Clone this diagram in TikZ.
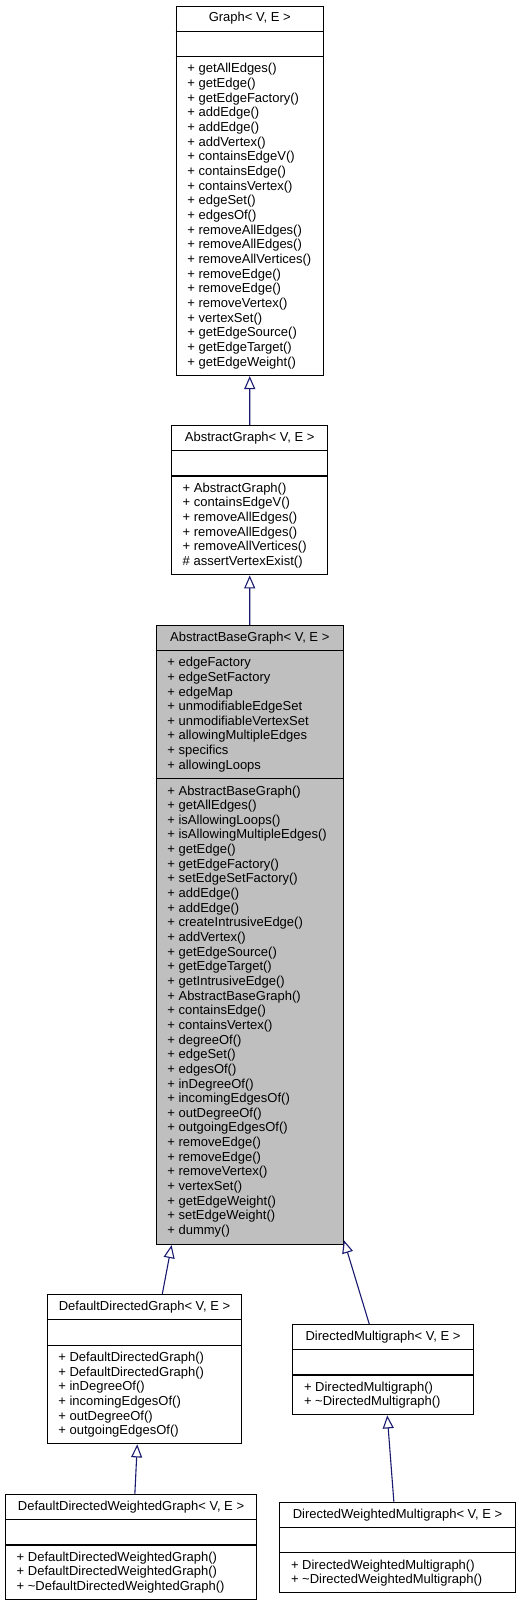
\documentclass[tikz,border=0pt]{standalone}
\usepackage{fontspec}
\setmainfont{Liberation Sans}
\usepackage{tikz}
\usetikzlibrary{arrows.meta}

\definecolor{edgeblue}{HTML}{191970}
\definecolor{basegrey}{HTML}{BFBFBF}
\newcommand\umlfont{\fontsize{13}{14.65}\selectfont}

\tikzset{
  classbox/.style={draw=black, line width=1.1pt, anchor=north west, inner sep=0pt},
  classname/.style={anchor=base, inner sep=0pt, font=\umlfont},
  member/.style={anchor=base west, inner sep=0pt, font=\umlfont},
  inherit/.style={draw=edgeblue, line width=1.1pt, -{Triangle[open, length=13pt, width=11pt]}},
}

\begin{document}
\begin{tikzpicture}[x=1pt, y=1pt]
    \useasboundingbox (0,0) rectangle (520,-1605);
    % Graph
    \node[classbox, minimum width=147, minimum height=369.3] (graph) at (175.7,-5.7) {};
    \draw[line width=1.1pt] ([yshift=-25.5]graph.north west) -- ([yshift=-25.5]graph.north east);
    \draw[line width=1.1pt] ([yshift=-51]graph.north west) -- ([yshift=-51]graph.north east);
    \node[classname] (graph-name) at ([yshift=-16.3]graph.north) {Graph< V, E >};
    \foreach \m [count=\i from 0] in {+ getAllEdges(), + getEdge(), + getEdgeFactory(), + addEdge(), + addEdge(), + addVertex(), + containsEdgeV(), + containsEdge(), + containsVertex(), + edgeSet(), + edgesOf(), + removeAllEdges(), + removeAllEdges(), + removeAllVertices(), + removeEdge(), + removeEdge(), + removeVertex(), + vertexSet(), + getEdgeSource(), + getEdgeTarget(), + getEdgeWeight()}
      \node[member] (graph-op\i) at ([xshift=11.5, yshift=-67.3-14.65*\i]graph.north west) {\m};

    % AbstractGraph
    \node[classbox, minimum width=156.3, minimum height=149.3] (agraph) at (171,-425) {};
    \draw[line width=1.1pt] ([yshift=-25.5]agraph.north west) -- ([yshift=-25.5]agraph.north east);
    \draw[line width=1.1pt] ([yshift=-51]agraph.north west) -- ([yshift=-51]agraph.north east);
    \node[classname] (agraph-name) at ([yshift=-16.3]agraph.north) {AbstractGraph< V, E >};
    \foreach \m [count=\i from 0] in {+ AbstractGraph(), + containsEdgeV(), + removeAllEdges(), + removeAllEdges(), + removeAllVertices(), \# assertVertexExist()}
      \node[member] (agraph-op\i) at ([xshift=11.5, yshift=-67.3-14.65*\i]agraph.north west) {\m};

    % AbstractBaseGraph
    \node[classbox, fill=basegrey, minimum width=187, minimum height=619] (abgraph) at (155.7,-625) {};
    \draw[line width=1.1pt] ([yshift=-25.5]abgraph.north west) -- ([yshift=-25.5]abgraph.north east);
    \draw[line width=1.1pt] ([yshift=-153.7]abgraph.north west) -- ([yshift=-153.7]abgraph.north east);
    \node[classname] (abgraph-name) at ([yshift=-16.3]abgraph.north) {AbstractBaseGraph< V, E >};
    \foreach \m [count=\i from 0] in {+ edgeFactory, + edgeSetFactory, + edgeMap, + unmodifiableEdgeSet, + unmodifiableVertexSet, + allowingMultipleEdges, + specifics, + allowingLoops}
      \node[member] (abgraph-at\i) at ([xshift=11.5, yshift=-41.7-14.65*\i]abgraph.north west) {\m};
    \foreach \m [count=\i from 0] in {+ AbstractBaseGraph(), + getAllEdges(), + isAllowingLoops(), + isAllowingMultipleEdges(), + getEdge(), + getEdgeFactory(), + setEdgeSetFactory(), + addEdge(), + addEdge(), + createIntrusiveEdge(), + addVertex(), + getEdgeSource(), + getEdgeTarget(), + getIntrusiveEdge(), + AbstractBaseGraph(), + containsEdge(), + containsVertex(), + degreeOf(), + edgeSet(), + edgesOf(), + inDegreeOf(), + incomingEdgesOf(), + outDegreeOf(), + outgoingEdgesOf(), + removeEdge(), + removeEdge(), + removeVertex(), + vertexSet(), + getEdgeWeight(), + setEdgeWeight(), + dummy()}
      \node[member] (abgraph-op\i) at ([xshift=11.5, yshift=-170-14.65*\i]abgraph.north west) {\m};

    % DefaultDirectedGraph
    \node[classbox, minimum width=194.6, minimum height=149] (ddgraph) at (46.7,-1294.3) {};
    \draw[line width=1.1pt] ([yshift=-25.5]ddgraph.north west) -- ([yshift=-25.5]ddgraph.north east);
    \draw[line width=1.1pt] ([yshift=-51]ddgraph.north west) -- ([yshift=-51]ddgraph.north east);
    \node[classname] (ddgraph-name) at ([yshift=-16.3]ddgraph.north) {DefaultDirectedGraph< V, E >};
    \foreach \m [count=\i from 0] in {+ DefaultDirectedGraph(), + DefaultDirectedGraph(), + inDegreeOf(), + incomingEdgesOf(), + outDegreeOf(), + outgoingEdgesOf()}
      \node[member] (ddgraph-op\i) at ([xshift=11.5, yshift=-67.3-14.65*\i]ddgraph.north west) {\m};

    % DirectedMultigraph
    \node[classbox, minimum width=180.4, minimum height=90.3] (dmgraph) at (292.3,-1324) {};
    \draw[line width=1.1pt] ([yshift=-25.5]dmgraph.north west) -- ([yshift=-25.5]dmgraph.north east);
    \draw[line width=1.1pt] ([yshift=-51]dmgraph.north west) -- ([yshift=-51]dmgraph.north east);
    \node[classname] (dmgraph-name) at ([yshift=-16.3]dmgraph.north) {DirectedMultigraph< V, E >};
    \foreach \m [count=\i from 0] in {+ DirectedMultigraph(), + \textasciitilde DirectedMultigraph()}
      \node[member] (dmgraph-op\i) at ([xshift=11.5, yshift=-67.3-14.65*\i]dmgraph.north west) {\m};

    % DefaultDirectedWeightedGraph
    \node[classbox, minimum width=251, minimum height=105.3] (ddwgraph) at (5,-1494) {};
    \draw[line width=1.1pt] ([yshift=-25.5]ddwgraph.north west) -- ([yshift=-25.5]ddwgraph.north east);
    \draw[line width=1.1pt] ([yshift=-51]ddwgraph.north west) -- ([yshift=-51]ddwgraph.north east);
    \node[classname] (ddwgraph-name) at ([yshift=-16.3]ddwgraph.north) {DefaultDirectedWeightedGraph< V, E >};
    \foreach \m [count=\i from 0] in {+ DefaultDirectedWeightedGraph(), + DefaultDirectedWeightedGraph(), + \textasciitilde DefaultDirectedWeightedGraph()}
      \node[member] (ddwgraph-op\i) at ([xshift=11.5, yshift=-67.3-14.65*\i]ddwgraph.north west) {\m};

    % DirectedWeightedMultigraph
    \node[classbox, minimum width=235.4, minimum height=90] (dwmgraph) at (279.3,-1501.7) {};
    \draw[line width=1.1pt] ([yshift=-25.5]dwmgraph.north west) -- ([yshift=-25.5]dwmgraph.north east);
    \draw[line width=1.1pt] ([yshift=-51]dwmgraph.north west) -- ([yshift=-51]dwmgraph.north east);
    \node[classname] (dwmgraph-name) at ([yshift=-16.3]dwmgraph.north) {DirectedWeightedMultigraph< V, E >};
    \foreach \m [count=\i from 0] in {+ DirectedWeightedMultigraph(), + \textasciitilde DirectedWeightedMultigraph()}
      \node[member] (dwmgraph-op\i) at ([xshift=11.5, yshift=-67.3-14.65*\i]dwmgraph.north west) {\m};

    % inheritance
    \draw[inherit] (agraph.north) -- (graph.south);
    \draw[inherit] (abgraph.north) -- (agraph.south);
    \draw[inherit] ([xshift=17.7]ddgraph.north) -- ([xshift=-78.2]abgraph.south);
    \draw[inherit] ([xshift=-13.8]dmgraph.north) -- ([yshift=5]abgraph.south east);
    \draw[inherit] ([xshift=3.8]ddwgraph.north) -- ([xshift=-7.3]ddgraph.south);
    \draw[inherit] ([xshift=-3.7]dwmgraph.north) -- ([xshift=4.2]dmgraph.south);
  \end{tikzpicture}
\end{document}
